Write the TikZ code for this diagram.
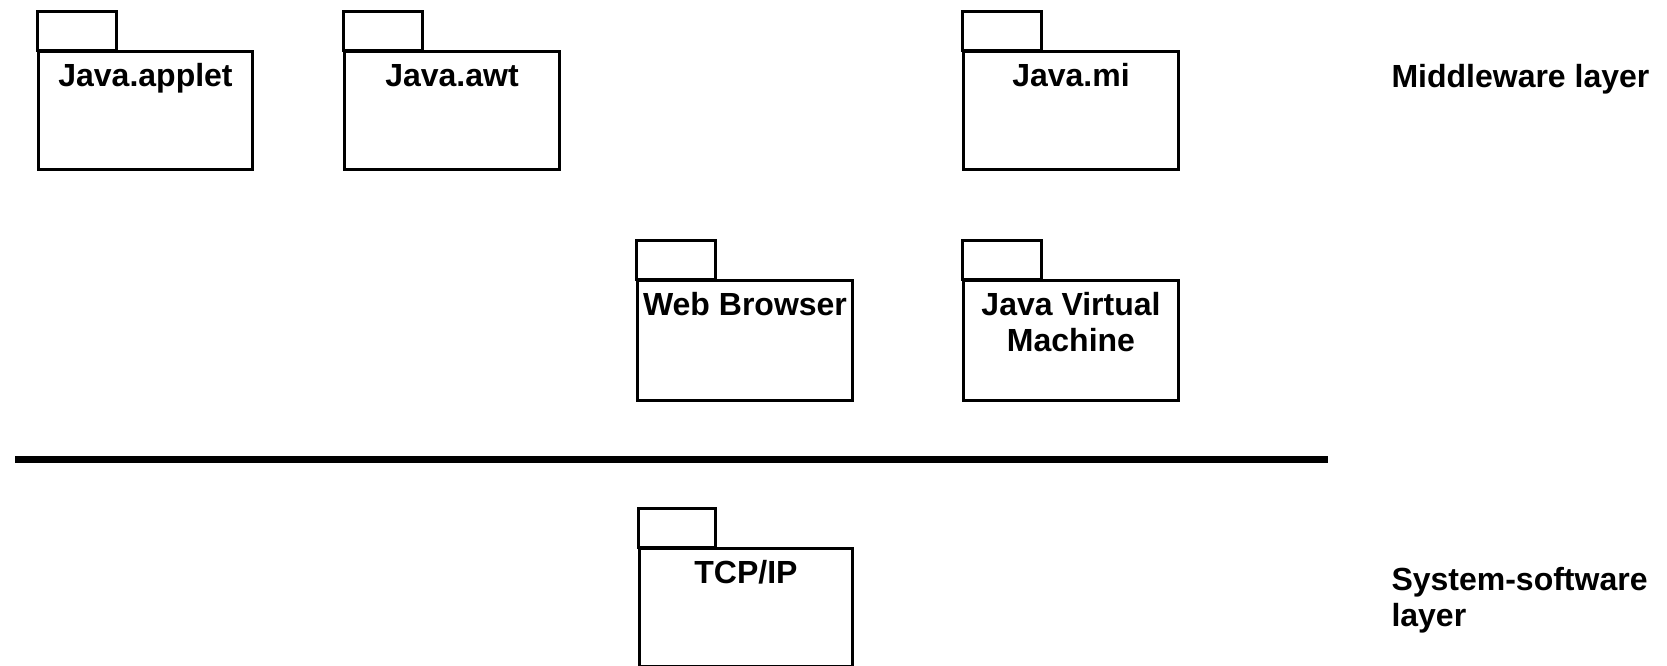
\documentclass[tikz,border=0pt]{standalone}
\usepackage{fontspec}
\setmainfont{Liberation Sans}
\usetikzlibrary{calc}
\begin{document}
\begin{tikzpicture}[x=1pt,y=-1pt,line width=3pt,
  pkgbody/.style={draw=black, rectangle, inner sep=0pt, anchor=north west, minimum width=#1},
  pkgbody/.default=215pt,
  pkgtext/.style={font=\fontsize{32}{36}\selectfont\bfseries, inner sep=0pt, anchor=base, align=center},
  layertext/.style={font=\fontsize{32}{35}\selectfont\bfseries, inner sep=0pt, anchor=base west, align=left},
  divider/.style={line width=7pt}
]
\useasboundingbox (0,0) rectangle (1667,665);

% middleware packages
\node[pkgbody=214pt, minimum height=118pt] (applet) at (37,50) {};
\node[pkgbody, minimum height=118pt] (awt) at (343,50) {};
\node[pkgbody, minimum height=118pt] (mi) at (962,50) {};
\node[pkgbody, minimum height=120pt] (web) at (636,279) {};
\node[pkgbody, minimum height=120pt] (jvm) at (962,279) {};
% system software package
\node[pkgbody=213pt, minimum height=118pt] (tcp) at (638,547) {};

% tabs
\foreach \p in {applet,awt,mi,web,jvm}{
  \draw (\p.north west) rectangle ++(79,-39);
}
\draw (tcp.north west) rectangle ++(77,-39);

% labels
\node[pkgtext] (tapplet) at ($(applet.north)+(0,36)$) {Java.applet};
\node[pkgtext] (tawt) at ($(awt.north)+(0,36)$) {Java.awt};
\node[pkgtext] (tmi) at ($(mi.north)+(0,36)$) {Java.mi};
\node[pkgtext] (tweb) at ($(web.north)+(0,36)$) {Web Browser};
\node[pkgtext] (tjvm) at ($(jvm.north)+(0,36)$) {Java Virtual};
\node[pkgtext] (tjvm2) at ($(jvm.north)+(0,72)$) {Machine};
\node[pkgtext] (ttcp) at ($(tcp.north)+(0,36)$) {TCP/IP};

% divider
\coordinate (dl) at (15,459);
\coordinate (dr) at (1328,459);
\draw[divider] (dl) -- (dr);

% layer names
\node[layertext] (mw) at (1390,87) {Middleware layer};
\node[layertext] (ss1) at (1390,590) {System-software};
\node[layertext] (ss2) at (1390,626) {layer};
\end{tikzpicture}
\end{document}
